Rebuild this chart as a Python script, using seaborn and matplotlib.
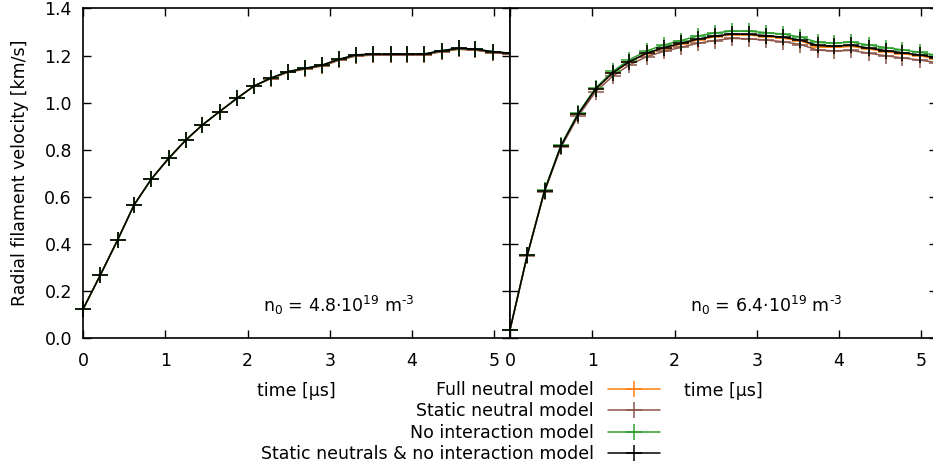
import numpy as np
import pandas as pd
import matplotlib.pyplot as plt
from matplotlib.lines import Line2D
import seaborn as sns

# time axis [us]
time = [0.00, 0.21, 0.42, 0.62, 0.83, 1.04, 1.25, 1.45, 1.66, 1.87, 2.08, 2.28, 2.49,
        2.70, 2.91, 3.11, 3.32, 3.53, 3.74, 3.94, 4.15, 4.36, 4.57, 4.77, 4.98, 5.19]

models = ["Full neutral model", "Static neutral model", "No interaction model",
          "Static neutrals & no interaction model"]
colors = ["#ff7f0e", "#8c564b", "#2ca02c", "#000000"]

# n0 = 4.8e19 m^-3
low_full = [0.122, 0.267, 0.416, 0.565, 0.675, 0.763, 0.841, 0.905, 0.962, 1.018, 1.070, 1.102, 1.129,
            1.143, 1.156, 1.180, 1.199, 1.202, 1.202, 1.202, 1.203, 1.217, 1.227, 1.223, 1.213, 1.206]
low_static = [0.122, 0.267, 0.416, 0.565, 0.675, 0.763, 0.841, 0.905, 0.962, 1.018, 1.070, 1.102, 1.129,
              1.143, 1.156, 1.180, 1.199, 1.202, 1.202, 1.202, 1.203, 1.217, 1.227, 1.223, 1.213, 1.206]
low_noint = [0.122, 0.267, 0.416, 0.565, 0.675, 0.763, 0.841, 0.905, 0.962, 1.018, 1.071, 1.104, 1.132,
             1.146, 1.160, 1.184, 1.203, 1.206, 1.206, 1.206, 1.207, 1.221, 1.231, 1.227, 1.217, 1.210]
low_both = [0.122, 0.267, 0.416, 0.565, 0.675, 0.763, 0.841, 0.905, 0.962, 1.018, 1.071, 1.104, 1.132,
            1.146, 1.160, 1.184, 1.203, 1.206, 1.206, 1.206, 1.207, 1.221, 1.231, 1.227, 1.217, 1.210]

# n0 = 6.4e19 m^-3
high_full = [0.035, 0.352, 0.626, 0.817, 0.951, 1.057, 1.126, 1.172, 1.207, 1.230, 1.248, 1.266, 1.280,
             1.289, 1.287, 1.281, 1.274, 1.262, 1.238, 1.235, 1.239, 1.228, 1.217, 1.208, 1.199, 1.186]
high_static = [0.035, 0.350, 0.622, 0.810, 0.943, 1.046, 1.113, 1.160, 1.195, 1.218, 1.235, 1.252, 1.264,
               1.273, 1.271, 1.266, 1.259, 1.247, 1.223, 1.220, 1.222, 1.210, 1.199, 1.190, 1.181, 1.170]
high_noint = [0.035, 0.353, 0.628, 0.820, 0.956, 1.062, 1.133, 1.182, 1.220, 1.245, 1.264, 1.283, 1.296,
              1.304, 1.303, 1.298, 1.291, 1.279, 1.256, 1.253, 1.257, 1.245, 1.234, 1.224, 1.214, 1.201]
high_both = [0.035, 0.352, 0.626, 0.817, 0.952, 1.058, 1.127, 1.174, 1.210, 1.234, 1.252, 1.270, 1.283,
             1.292, 1.290, 1.285, 1.278, 1.266, 1.243, 1.240, 1.244, 1.232, 1.221, 1.212, 1.203, 1.190]

panels = [
    ([low_full, low_static, low_noint, low_both], r"n$_0$ = 4.8·10$^{19}$ m$^{\text{-3}}$"),
    ([high_full, high_static, high_noint, high_both], r"n$_0$ = 6.4·10$^{19}$ m$^{\text{-3}}$"),
]

sns.set_style("ticks")
plt.rcParams["font.family"] = ["DejaVu Sans"]
plt.rcParams["font.size"] = 12.5
plt.rcParams["text.color"] = "black"
plt.rcParams["axes.labelcolor"] = "black"

FS = 12.5
fig = plt.figure(figsize=(9.33, 4.68), dpi=100)
W, H = 933, 468
ax_left = fig.add_axes([83 / W, 1 - 338 / H, 427 / W, 329.5 / H])
ax_right = fig.add_axes([510 / W, 1 - 338 / H, 427 / W, 329.5 / H])

for ax, (series, note) in zip([ax_left, ax_right], panels):
    for name, vals, c in zip(models, series, colors):
        df = pd.DataFrame({"time": time, "v": vals})
        sns.lineplot(data=df, x="time", y="v", color=c, marker="+", markersize=11,
                     markeredgewidth=1.1, markeredgecolor=c, linewidth=1.1,
                     errorbar=None, ax=ax, clip_on=False)
    ax.set_xlim(0, 5.19)
    ax.set_ylim(0, 1.4)
    ax.set_xticks([0, 1, 2, 3, 4, 5])
    ax.set_yticks(np.arange(0, 1.41, 0.2))
    ax.tick_params(direction="in", length=6, width=1, top=True, right=True,
                   labelsize=FS, colors="black")
    ax.tick_params(axis="x", pad=10)
    ax.tick_params(axis="y", pad=8)
    for sp in ax.spines.values():
        sp.set_visible(True)
        sp.set_linewidth(1.2)
        sp.set_color("black")
    ax.set_xlabel("time [µs]", fontsize=FS, labelpad=9)
    ax.text(0.60, 0.10, note, transform=ax.transAxes, ha="center", va="center", fontsize=FS)

ax_left.yaxis.set_major_formatter(plt.FormatStrFormatter("%.1f"))
ax_left.set_ylabel("Radial filament velocity [km/s]", fontsize=FS, labelpad=11)
ax_right.set_ylabel("")
ax_right.tick_params(labelleft=False)

handles = [Line2D([0], [0], color=c, marker="+", markersize=11, markeredgewidth=1.1, linewidth=1.1)
           for c in colors]
fig.legend(handles, models, loc="upper right", bbox_to_anchor=(660 / W, 1 - 381 / H),
           frameon=False, markerfirst=False, handlelength=3.0, handletextpad=0.8,
           labelspacing=0.2, borderpad=0, borderaxespad=0, fontsize=FS)

fig.savefig("out.png", dpi=100)
